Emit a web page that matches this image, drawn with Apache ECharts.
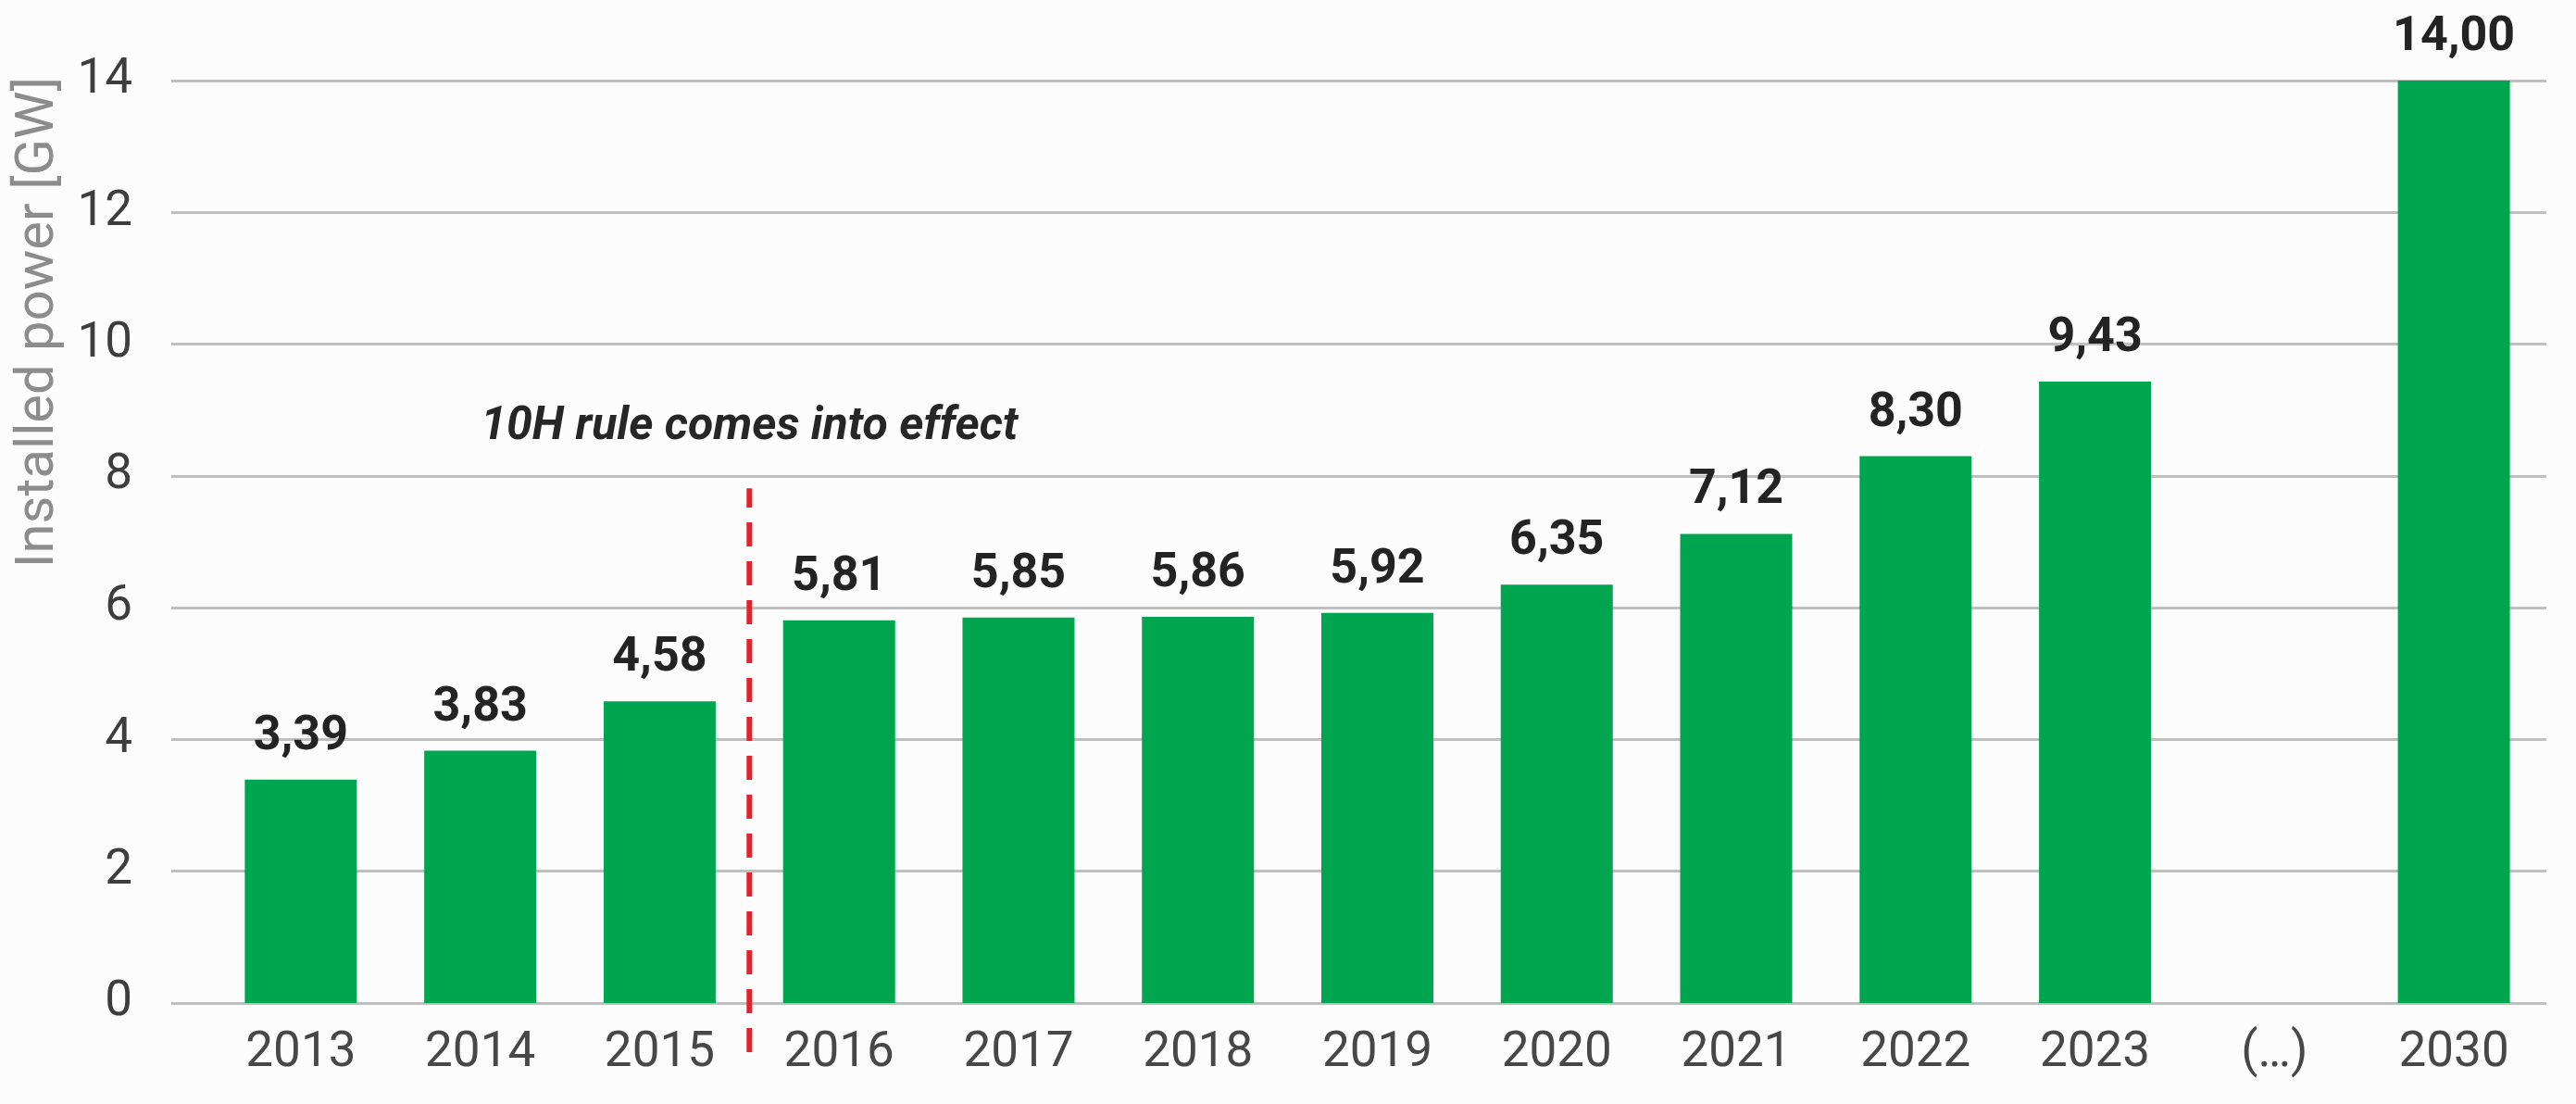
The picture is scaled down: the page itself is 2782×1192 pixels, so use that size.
<!DOCTYPE html>
<html>
<head>
<meta charset="utf-8">
<script src="https://cdn.jsdelivr.net/npm/echarts@6/dist/echarts.min.js"></script>
<style>
html,body{margin:0;padding:0;background:#fcfcfd;}
#chart{width:2782px;height:1192px;}
</style>
</head>
<body>
<div id="chart"></div>
<script>
// ---- data ----
const years = ['2013','2014','2015','2016','2017','2018','2019','2020','2021','2022','2023','(…)','2030'];
const installedGW = [3.39, 3.83, 4.58, 5.81, 5.85, 5.86, 5.92, 6.35, 7.12, 8.30, 9.43, null, 14.00];
const yTicks = [0, 2, 4, 6, 8, 10, 12, 14];
const yAxisTitle = 'Installed power [GW]';
const ruleText = '10H rule comes into effect';
const rulePosition = 2.5;          // between 2015 and 2016 (category index units)
const ruleLineSpan = [-0.745, 7.81]; // GW extent of the dashed marker line

const chart = echarts.init(document.getElementById('chart'));
const font = 'Roboto';
const yMin = yTicks[0], yMax = yTicks[yTicks.length - 1], yStep = yTicks[1] - yTicks[0];

chart.setOption({
  backgroundColor: '#fcfcfd',
  animation: false,
  textStyle: { fontFamily: font },
  grid: [
    { left: 185, right: 32, top: 87, bottom: 109 },
    { left: 228, right: 35, top: 87, bottom: 109 }
  ],
  graphic: [{
    type: 'text',
    x: 42, y: 348,
    rotation: Math.PI / 2,
    style: {
      text: yAxisTitle,
      align: 'center', verticalAlign: 'middle',
      fontFamily: font, fontSize: 58,
      fill: '#8c8c8c'
    }
  }],
  xAxis: [
    { gridIndex: 0, type: 'value', min: 0, max: 1, show: false },
    {
      gridIndex: 1, type: 'category', data: years,
      axisLine: { show: false }, axisTick: { show: false },
      axisLabel: { color: '#474747', fontSize: 53, fontFamily: font, margin: 28 }
    },
    { gridIndex: 1, type: 'value', min: -0.5, max: years.length - 0.5, show: false }
  ],
  yAxis: [
    {
      gridIndex: 0, type: 'value', min: yMin, max: yMax, interval: yStep,
      axisLine: { show: false }, axisTick: { show: false },
      axisLabel: { color: '#3d3d3d', fontSize: 53, fontFamily: font, margin: 42 },
      splitLine: { lineStyle: { color: '#bfbfbf', width: 3 } }
    },
    { gridIndex: 1, type: 'value', min: yMin, max: yMax, interval: yStep, show: false, splitLine: { show: false } }
  ],
  series: [
    {
      type: 'bar',
      xAxisIndex: 1, yAxisIndex: 1,
      data: installedGW,
      barWidth: 121,
      itemStyle: { color: '#00a64f' },
      label: {
        show: true, position: 'top', distance: 20,
        fontFamily: font, fontWeight: 'bold', fontSize: 52, color: '#232323',
        formatter: p => p.value == null ? '' : p.value.toFixed(2).replace('.', ',')
      }
    },
    {
      type: 'line',
      xAxisIndex: 2, yAxisIndex: 1,
      data: ruleLineSpan.map(v => [rulePosition, v]),
      symbol: 'none', clip: false, silent: true,
      lineStyle: { color: '#e8202a', width: 6, type: [26, 16] }
    },
    {
      type: 'scatter',
      xAxisIndex: 2, yAxisIndex: 1,
      data: [[rulePosition, ruleLineSpan[1]]],
      symbolSize: 1, itemStyle: { color: 'transparent', opacity: 1 }, silent: true,
      label: {
        show: true, position: 'top', distance: 40, opacity: 1,
        formatter: ruleText,
        fontFamily: font, fontStyle: 'italic', fontWeight: 'bold', fontSize: 50, color: '#262626'
      }
    }
  ]
});
</script>
</body>
</html>
